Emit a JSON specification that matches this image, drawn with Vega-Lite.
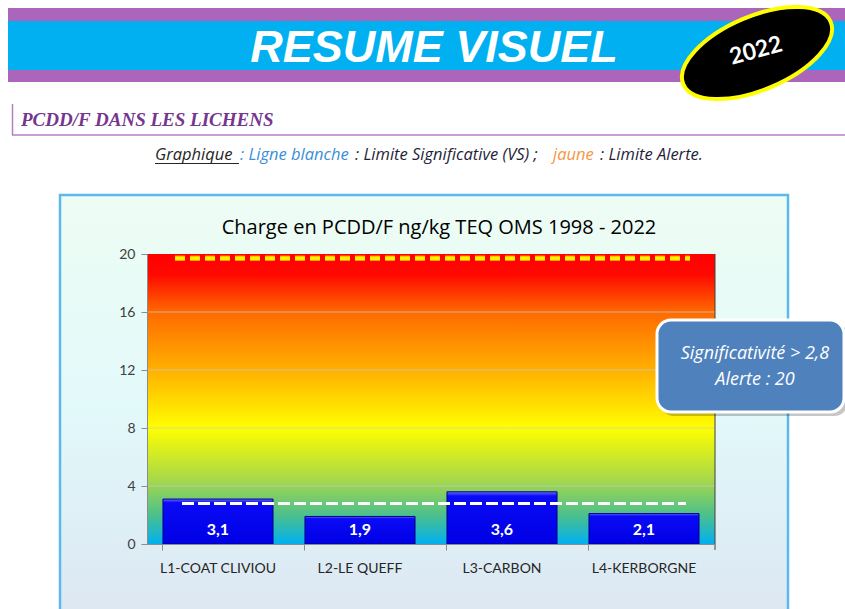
{
  "$schema": "https://vega.github.io/schema/vega-lite/v6.json",
  "width": 568,
  "height": 290,
  "autosize": {"type": "none"},
  "padding": {"left": 147, "top": 254, "right": 130, "bottom": 65},
  "background": "white",
  "config": {
    "view": {"stroke": null},
    "font": "Lato",
    "locale": {"number": {"decimal": ",", "thousands": " ", "grouping": [3], "currency": ["", " €"]}}
  },
  "datasets": {
    "pcdd": [
      {"site": "L1-Coat Cliviou", "value": 3.1},
      {"site": "L2-Le Queff", "value": 1.9},
      {"site": "L3-Carbon", "value": 3.6},
      {"site": "L4-Kerborgne", "value": 2.1}
    ],
    "grid": [{"g": 4}, {"g": 8}, {"g": 12}, {"g": 16}],
    "vs": [{"limit": "Limite Significative (VS)", "value": 2.8}],
    "alerte": [{"limit": "Limite Alerte", "value": 19.7}],
    "one": [{"item": "decor"}]
  },
  "resolve": {"scale": {"x": "independent", "y": "independent"}},
  "layer": [
    {
      "data": {"name": "one"},
      "mark": {"type": "rect", "fill": "#AB66BC"},
      "encoding": {
        "x": {"datum": 8, "type": "quantitative", "scale": {"domain": [147, 715], "zero": false, "nice": false}, "axis": null},
        "x2": {"datum": 845},
        "y": {"datum": 8, "type": "quantitative", "scale": {"domain": [254, 544], "reverse": true, "zero": false, "nice": false}, "axis": null},
        "y2": {"datum": 82}
      }
    },
    {
      "data": {"name": "one"},
      "mark": {"type": "rect", "fill": "#00B0F0"},
      "encoding": {
        "x": {"datum": 8, "type": "quantitative", "scale": {"domain": [147, 715], "zero": false, "nice": false}, "axis": null},
        "x2": {"datum": 845},
        "y": {"datum": 21, "type": "quantitative", "scale": {"domain": [254, 544], "reverse": true, "zero": false, "nice": false}, "axis": null},
        "y2": {"datum": 70}
      }
    },
    {
      "data": {"name": "one"},
      "mark": {"type": "text", "text": "RESUME VISUEL", "font": "Liberation Sans", "fontSize": 45, "fontWeight": "bold", "fontStyle": "italic", "color": "white", "align": "center", "baseline": "alphabetic"},
      "encoding": {
        "x": {"datum": 434, "type": "quantitative", "scale": {"domain": [147, 715], "zero": false, "nice": false}, "axis": null},
        "y": {"datum": 62, "type": "quantitative", "scale": {"domain": [254, 544], "reverse": true, "zero": false, "nice": false}, "axis": null}
      }
    },
    {
      "data": {"name": "one"},
      "mark": {"type": "point", "shape": "M -1 0 A 1 0.46 0 1 1 1 0 A 1 0.46 0 1 1 -1 0 Z", "size": 25600, "angle": -23, "filled": true, "fill": "#000000", "stroke": "#FFFF00", "strokeWidth": 4, "opacity": 1},
      "encoding": {
        "x": {"datum": 757, "type": "quantitative", "scale": {"domain": [147, 715], "zero": false, "nice": false}, "axis": null},
        "y": {"datum": 53, "type": "quantitative", "scale": {"domain": [254, 544], "reverse": true, "zero": false, "nice": false}, "axis": null}
      }
    },
    {
      "data": {"name": "one"},
      "mark": {"type": "text", "text": "2022", "fontSize": 23, "fontWeight": "bold", "color": "white", "align": "center", "baseline": "middle", "angle": -15},
      "encoding": {
        "x": {"datum": 756, "type": "quantitative", "scale": {"domain": [147, 715], "zero": false, "nice": false}, "axis": null},
        "y": {"datum": 51, "type": "quantitative", "scale": {"domain": [254, 544], "reverse": true, "zero": false, "nice": false}, "axis": null}
      }
    },
    {
      "data": {"name": "one"},
      "mark": {"type": "rule", "color": "#B57FC6", "strokeWidth": 1.5},
      "encoding": {
        "x": {"datum": 12.5, "type": "quantitative", "scale": {"domain": [147, 715], "zero": false, "nice": false}, "axis": null},
        "y": {"datum": 104, "type": "quantitative", "scale": {"domain": [254, 544], "reverse": true, "zero": false, "nice": false}, "axis": null},
        "y2": {"datum": 135}
      }
    },
    {
      "data": {"name": "one"},
      "mark": {"type": "rule", "color": "#B57FC6", "strokeWidth": 1.5},
      "encoding": {
        "x": {"datum": 12, "type": "quantitative", "scale": {"domain": [147, 715], "zero": false, "nice": false}, "axis": null},
        "x2": {"datum": 845},
        "y": {"datum": 135, "type": "quantitative", "scale": {"domain": [254, 544], "reverse": true, "zero": false, "nice": false}, "axis": null}
      }
    },
    {
      "data": {"name": "one"},
      "mark": {"type": "text", "text": "PCDD/F DANS LES LICHENS", "font": "Liberation Serif", "fontSize": 19, "fontWeight": "bold", "fontStyle": "italic", "color": "#75368F", "align": "left", "baseline": "alphabetic"},
      "encoding": {
        "x": {"datum": 21, "type": "quantitative", "scale": {"domain": [147, 715], "zero": false, "nice": false}, "axis": null},
        "y": {"datum": 126, "type": "quantitative", "scale": {"domain": [254, 544], "reverse": true, "zero": false, "nice": false}, "axis": null}
      }
    },
    {
      "data": {"name": "one"},
      "mark": {"type": "text", "text": "Graphique", "font": "Open Sans", "fontSize": 16.5, "fontStyle": "italic", "color": "#262626", "align": "left", "baseline": "alphabetic"},
      "encoding": {
        "x": {"datum": 155, "type": "quantitative", "scale": {"domain": [147, 715], "zero": false, "nice": false}, "axis": null},
        "y": {"datum": 160, "type": "quantitative", "scale": {"domain": [254, 544], "reverse": true, "zero": false, "nice": false}, "axis": null}
      }
    },
    {
      "data": {"name": "one"},
      "mark": {"type": "rule", "color": "#262626", "strokeWidth": 1.2},
      "encoding": {
        "x": {"datum": 155, "type": "quantitative", "scale": {"domain": [147, 715], "zero": false, "nice": false}, "axis": null},
        "x2": {"datum": 239},
        "y": {"datum": 163.5, "type": "quantitative", "scale": {"domain": [254, 544], "reverse": true, "zero": false, "nice": false}, "axis": null}
      }
    },
    {
      "data": {"name": "one"},
      "mark": {"type": "text", "text": ": Ligne blanche", "font": "Open Sans", "fontSize": 16.5, "fontStyle": "italic", "color": "#3A8FD8", "align": "left", "baseline": "alphabetic"},
      "encoding": {
        "x": {"datum": 240, "type": "quantitative", "scale": {"domain": [147, 715], "zero": false, "nice": false}, "axis": null},
        "y": {"datum": 160, "type": "quantitative", "scale": {"domain": [254, 544], "reverse": true, "zero": false, "nice": false}, "axis": null}
      }
    },
    {
      "data": {"name": "one"},
      "mark": {"type": "text", "text": ": Limite Significative (VS) ;", "font": "Open Sans", "fontSize": 16.5, "fontStyle": "italic", "color": "#1F1F3A", "align": "left", "baseline": "alphabetic"},
      "encoding": {
        "x": {"datum": 355, "type": "quantitative", "scale": {"domain": [147, 715], "zero": false, "nice": false}, "axis": null},
        "y": {"datum": 160, "type": "quantitative", "scale": {"domain": [254, 544], "reverse": true, "zero": false, "nice": false}, "axis": null}
      }
    },
    {
      "data": {"name": "one"},
      "mark": {"type": "text", "text": "jaune", "font": "Open Sans", "fontSize": 16.5, "fontStyle": "italic", "color": "#F79646", "align": "left", "baseline": "alphabetic"},
      "encoding": {
        "x": {"datum": 553, "type": "quantitative", "scale": {"domain": [147, 715], "zero": false, "nice": false}, "axis": null},
        "y": {"datum": 160, "type": "quantitative", "scale": {"domain": [254, 544], "reverse": true, "zero": false, "nice": false}, "axis": null}
      }
    },
    {
      "data": {"name": "one"},
      "mark": {"type": "text", "text": ": Limite Alerte.", "font": "Open Sans", "fontSize": 16.5, "fontStyle": "italic", "color": "#1F1F3A", "align": "left", "baseline": "alphabetic"},
      "encoding": {
        "x": {"datum": 600, "type": "quantitative", "scale": {"domain": [147, 715], "zero": false, "nice": false}, "axis": null},
        "y": {"datum": 160, "type": "quantitative", "scale": {"domain": [254, 544], "reverse": true, "zero": false, "nice": false}, "axis": null}
      }
    },
    {
      "data": {"name": "one"},
      "mark": {"type": "rect", "stroke": "#5DB9EA", "strokeWidth": 2.5, "fill": {"gradient": "linear", "x1": 0, "y1": 0, "x2": 0, "y2": 1, "stops": [{"offset": 0, "color": "#EEFDF4"}, {"offset": 0.5, "color": "#E2F9FA"}, {"offset": 1, "color": "#DCE6F2"}]}},
      "encoding": {
        "x": {"datum": 60, "type": "quantitative", "scale": {"domain": [147, 715], "zero": false, "nice": false}, "axis": null},
        "x2": {"datum": 788},
        "y": {"datum": 195, "type": "quantitative", "scale": {"domain": [254, 544], "reverse": true, "zero": false, "nice": false}, "axis": null},
        "y2": {"datum": 625}
      }
    },
    {
      "data": {"name": "one"},
      "mark": {"type": "text", "text": "Charge en PCDD/F ng/kg TEQ OMS 1998 - 2022", "font": "Open Sans", "fontSize": 20, "color": "#000000", "align": "center", "baseline": "alphabetic"},
      "encoding": {
        "x": {"datum": 439, "type": "quantitative", "scale": {"domain": [147, 715], "zero": false, "nice": false}, "axis": null},
        "y": {"datum": 234, "type": "quantitative", "scale": {"domain": [254, 544], "reverse": true, "zero": false, "nice": false}, "axis": null}
      }
    },
    {
      "data": {"name": "one"},
      "mark": {"type": "rect", "fill": {"gradient": "linear", "x1": 0, "y1": 0, "x2": 0, "y2": 1, "stops": [{"offset": 0, "color": "#FF0000"}, {"offset": 0.07, "color": "#FF0800"}, {"offset": 0.2, "color": "#FF6A00"}, {"offset": 0.4, "color": "#FFB000"}, {"offset": 0.6, "color": "#FFFF00"}, {"offset": 0.78, "color": "#A6D84A"}, {"offset": 0.9, "color": "#4CC08C"}, {"offset": 1, "color": "#00B0F0"}]}},
      "encoding": {
        "x": {"datum": 147, "type": "quantitative", "scale": {"domain": [147, 715], "zero": false, "nice": false}, "axis": null},
        "x2": {"datum": 715},
        "y": {"datum": 254, "type": "quantitative", "scale": {"domain": [254, 544], "reverse": true, "zero": false, "nice": false}, "axis": null},
        "y2": {"datum": 544}
      }
    },
    {
      "data": {"name": "grid"},
      "mark": {"type": "rule", "color": "#C8C8C8", "opacity": 0.75, "strokeWidth": 1},
      "encoding": {
        "y": {"field": "g", "type": "quantitative", "scale": {"domain": [0, 20], "nice": false}, "axis": null}
      }
    },
    {
      "data": {"name": "pcdd"},
      "mark": {"type": "bar", "stroke": "#00008B", "strokeWidth": 1, "fill": {"gradient": "linear", "x1": 0, "y1": 0, "x2": 0, "y2": 1, "stops": [{"offset": 0, "color": "#6A6AFF"}, {"offset": 0.08, "color": "#0A0AF5"}, {"offset": 1, "color": "#0000E6"}]}},
      "encoding": {
        "x": {
          "field": "site", "type": "nominal", "sort": null,
          "scale": {"paddingInner": 0.225, "paddingOuter": 0.1125},
          "axis": {"title": null, "zindex": 1, "labelAngle": 0, "bandPosition": 0, "domainColor": "#8C8C8C", "tickColor": "#8C8C8C", "tickSize": 6, "labelPadding": 11, "labelFontSize": 14, "labelColor": "#262626", "labelFont": "Lato", "labelExpr": "upper(datum.label)"}
        },
        "y": {
          "field": "value", "type": "quantitative",
          "scale": {"domain": [0, 20], "nice": false},
          "axis": {"title": null, "zindex": 1, "grid": false, "values": [0, 4, 8, 12, 16, 20], "domainColor": "#8C8C8C", "tickColor": "#8C8C8C", "tickSize": 6, "labelPadding": 6, "labelFontSize": 14, "labelColor": "#404040", "labelFont": "Lato"}
        }
      }
    },
    {
      "data": {"name": "pcdd"},
      "mark": {"type": "text", "color": "white", "fontWeight": "bold", "fontSize": 16, "baseline": "middle", "align": "center"},
      "encoding": {
        "x": {"field": "site", "type": "nominal", "sort": null, "scale": {"paddingInner": 0.225, "paddingOuter": 0.1125}, "axis": null},
        "y": {"datum": 1, "type": "quantitative", "scale": {"domain": [0, 20], "nice": false}, "axis": null},
        "text": {"field": "value", "type": "quantitative", "format": ".1f"}
      }
    },
    {
      "data": {"name": "vs"},
      "mark": {"type": "rule", "color": "white", "strokeWidth": 3, "strokeDash": [12, 4]},
      "encoding": {
        "x": {"datum": 182, "type": "quantitative", "scale": {"domain": [147, 715], "zero": false, "nice": false}, "axis": null},
        "x2": {"datum": 686},
        "y": {"field": "value", "type": "quantitative", "scale": {"domain": [0, 20], "nice": false}, "axis": null}
      }
    },
    {
      "data": {"name": "alerte"},
      "mark": {"type": "rule", "color": "#FF9A00", "strokeWidth": 5.5, "strokeDash": [10, 5]},
      "encoding": {
        "x": {"datum": 175, "type": "quantitative", "scale": {"domain": [147, 715], "zero": false, "nice": false}, "axis": null},
        "x2": {"datum": 690},
        "y": {"field": "value", "type": "quantitative", "scale": {"domain": [0, 20], "nice": false}, "axis": null}
      }
    },
    {
      "data": {"name": "alerte"},
      "mark": {"type": "rule", "color": "#FFF000", "strokeWidth": 3.5, "strokeDash": [10, 5]},
      "encoding": {
        "x": {"datum": 175, "type": "quantitative", "scale": {"domain": [147, 715], "zero": false, "nice": false}, "axis": null},
        "x2": {"datum": 690},
        "y": {"field": "value", "type": "quantitative", "scale": {"domain": [0, 20], "nice": false}, "axis": null}
      }
    },
    {
      "data": {"name": "one"},
      "mark": {"type": "rule", "color": "#404040", "strokeWidth": 1},
      "encoding": {
        "x": {"datum": 715, "type": "quantitative", "scale": {"domain": [147, 715], "zero": false, "nice": false}, "axis": null},
        "y": {"datum": 254, "type": "quantitative", "scale": {"domain": [254, 544], "reverse": true, "zero": false, "nice": false}, "axis": null},
        "y2": {"datum": 550}
      }
    },
    {
      "data": {"name": "one"},
      "mark": {"type": "rect", "fill": "#000000", "opacity": 0.22, "cornerRadius": 14},
      "encoding": {
        "x": {"datum": 660, "type": "quantitative", "scale": {"domain": [147, 715], "zero": false, "nice": false}, "axis": null},
        "x2": {"datum": 848},
        "y": {"datum": 323, "type": "quantitative", "scale": {"domain": [254, 544], "reverse": true, "zero": false, "nice": false}, "axis": null},
        "y2": {"datum": 416}
      }
    },
    {
      "data": {"name": "one"},
      "mark": {"type": "rect", "fill": "#4F81BD", "stroke": "white", "strokeWidth": 3, "cornerRadius": 14},
      "encoding": {
        "x": {"datum": 657, "type": "quantitative", "scale": {"domain": [147, 715], "zero": false, "nice": false}, "axis": null},
        "x2": {"datum": 844},
        "y": {"datum": 320, "type": "quantitative", "scale": {"domain": [254, 544], "reverse": true, "zero": false, "nice": false}, "axis": null},
        "y2": {"datum": 412}
      }
    },
    {
      "data": {"name": "one"},
      "mark": {"type": "text", "text": ["Significativité > 2,8", "Alerte : 20"], "lineHeight": 26, "font": "Open Sans", "fontSize": 18, "fontStyle": "italic", "color": "white", "align": "center", "baseline": "middle"},
      "encoding": {
        "x": {"datum": 755, "type": "quantitative", "scale": {"domain": [147, 715], "zero": false, "nice": false}, "axis": null},
        "y": {"datum": 354, "type": "quantitative", "scale": {"domain": [254, 544], "reverse": true, "zero": false, "nice": false}, "axis": null}
      }
    }
  ]
}
